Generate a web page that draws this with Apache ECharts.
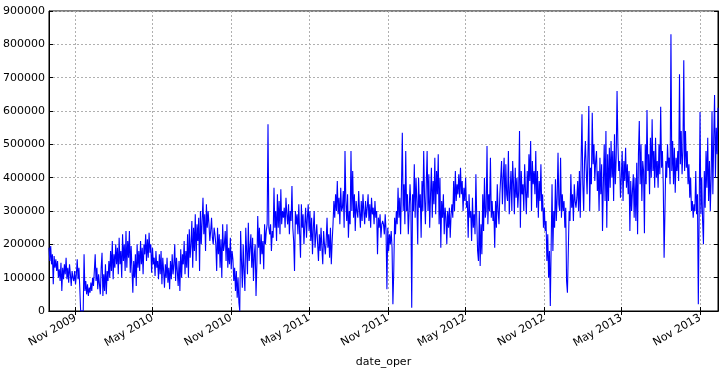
<!DOCTYPE html>
<html>
<head>
<meta charset="utf-8">
<script src="https://cdn.jsdelivr.net/npm/echarts@6/dist/echarts.min.js"></script>
<style>html,body{margin:0;padding:0;background:#fff}#c{width:725px;height:373px}</style>
</head>
<body>
<div id="c"></div>
<script>
// Values in thousands, one reading every 2 days starting 2009-09-01
const START_DATE = '2009-09-01';
const STEP_DAYS = 2;
const UNIT = 1000;
const seg1 = [190,150,195,140,170,80,165,130,155,120,
150,100,125,90,145,60,130,95,140,110,
160,95,130,85,140,110,75,120,100,90,
120,80,110,155,95,130,70,0,0,0,
0,170,60,90,50,80,45,70,55,85,
60,100,75,120,170,90,130,65,110,80,
50,130,175,45,110,60,140,50,120,90,
150,100,180,120,210,95,170,130,200,140,
190,110,220,140,180,100,230,150,200,120,
240,130,210,160,240,115,195];
const seg2 = [190,55,150,100,170,75,200,130,180,120,
210,140,190,110,200,170,230,150,215,160,
235,175,200,115,190,140,160,105,180,130,
150,95,170,110,180,80,160,120,70,140,
100,160,85,130,65,150,95,170,110,140,
200,90,160,120,75,150,60,185,100,170,
140,210,110,180,130,230,100,245,160,200,
270,130,250,180,290,150,260,210,280,120,
300,200,270,340,230,290,180,320,250,300,
260,210,240,280,220,200,250,230];
const seg3 = [200,120,250,170,230,130,215,100,260,180,
200,240,150,260,130,190,140,220,125,180,
155,90,130,60,120,40,100,25,0,240,
150,70,200,120,60,250,180,110,265,150,
190,230,130,220,90,170,200,45,140,285,
190,250,140,230,170,210,125,260,200,240,
260,560,250,230,260,180,240,220,370,250,
300,210,350,250,330,230,365,260,300,280,
310,250,340,290,260,320,230,300,270,375,
250,210,120,300,260,290,230,320];
const seg4 = [230,160,320,250,290,200,260,310,220,280,
320,240,300,210,280,170,250,300,190,230,
260,200,150,230,180,250,190,140,240,200,
170,210,280,190,230,160,250,140,210,260,
330,280,350,300,390,290,340,260,370,300,
310,360,250,480,330,270,350,220,300,260,
480,300,420,280,350,240,330,300,280,360,
300,250,330,270,350,300,260,330,280,310,
350,270,320,250,340,290,310,260,330,280,
300,170,280,250,290,220,260,270];
const seg5 = [260,230,290,240,65,250,180,230,200,240,
190,20,120,280,230,300,260,370,280,340,
230,370,535,300,380,260,480,300,350,230,
300,380,320,10,350,300,440,280,400,330,
200,400,310,350,220,390,300,480,340,260,
380,480,300,410,250,350,430,280,390,320,
460,290,420,350,470,260,400,190,330,280,
350,230,310,280,200,300,250,310,220,290,
320,280,390,300,420,330,380,350,410,340,
430,350,390,300,370,330,400,310];
const seg6 = [330,220,350,280,300,210,340,250,290,230,
410,280,180,150,300,135,260,170,350,240,
400,280,300,495,260,350,300,460,280,330,
270,300,190,330,250,380,300,260,350,400,
450,320,400,460,300,440,350,330,480,290,
360,420,300,450,380,290,430,340,400,310,
360,540,250,420,350,380,300,440,360,290,
420,340,470,390,510,300,450,380,420,350,
480,310,420,280,390,330,440,300,350,250,
310,240,270,150,230,100,180,15];
const seg7 = [15,380,180,300,250,395,270,340,475,320,
300,460,280,350,300,330,250,310,90,55,
60,300,270,410,310,350,270,380,330,310,
340,390,300,420,280,450,590,380,300,450,
510,420,350,470,615,300,430,380,595,440,
500,390,450,480,360,420,300,460,350,440,
240,380,500,330,540,250,470,330,490,370,
510,400,480,330,530,380,460,660,500,420,
450,340,400,480,330,450,390,490,370,440,
350,420,240,390,300,360,410,280];
const seg8 = [400,270,445,230,470,570,380,500,330,450,
420,233,500,380,603,420,470,350,520,400,
575,420,480,370,520,400,450,370,500,410,
613,430,480,380,160,300,450,400,500,430,
460,380,830,420,510,380,490,355,460,420,
480,390,710,440,540,410,480,752,420,540,
430,480,380,440,340,400,300,330,280,320,
300,420,290,350,20,300,597,290,400,270,
200,420,310,480,370,520,330,450,300,400,
600,350,520,648,400,550,470,610];
const yTicks = [0,100000,200000,300000,400000,500000,600000,700000,800000,900000];
const MONTHS = ['Jan','Feb','Mar','Apr','May','Jun','Jul','Aug','Sep','Oct','Nov','Dec'];
const TICK_MONTHS = [4, 10]; // May, Nov

const values = [].concat(seg1,seg2,seg3,seg4,seg5,seg6,seg7,seg8).map(v => v * UNIT);
const t0 = Date.parse(START_DATE + 'T00:00:00Z');
const dates = values.map((_, i) => new Date(t0 + i * STEP_DAYS * 86400000).toISOString().slice(0,10));

function isTick(index, value) {
  const d = new Date(dates[index] + 'T00:00:00Z');
  return TICK_MONTHS.indexOf(d.getUTCMonth()) >= 0 && d.getUTCDate() <= 2;
}
function fmt(value) {
  const d = new Date(value + 'T00:00:00Z');
  return MONTHS[d.getUTCMonth()] + ' ' + d.getUTCFullYear();
}

const chart = echarts.init(document.getElementById('c'), null, {renderer: 'canvas'});
const font = 'DejaVu Sans';
const gridLine = {show: true, lineStyle: {color: '#b0b0b0', type: [2, 2], width: 1}};
chart.setOption({
  animation: false,
  backgroundColor: '#fff',
  textStyle: {fontFamily: font},
  grid: {left: 48, right: 7, top: 11, bottom: 60, show: true, borderColor: '#000', borderWidth: 1, backgroundColor: 'transparent'},
  xAxis: [{
    type: 'category', data: dates, boundaryGap: false,
    name: 'date_oper', nameLocation: 'middle', nameGap: 46,
    nameTextStyle: {color: '#000', fontSize: 11, fontFamily: font},
    axisLine: {lineStyle: {color: '#000', width: 1}},
    axisTick: {inside: true, length: 4, interval: isTick, lineStyle: {color: '#000'}},
    axisLabel: {interval: isTick, rotate: 30, formatter: fmt, color: '#000', fontSize: 11, fontFamily: font, margin: 6},
    splitLine: Object.assign({interval: isTick}, gridLine)
  }, {
    type: 'category', data: dates, boundaryGap: false, position: 'top',
    axisLine: {lineStyle: {color: '#000'}},
    axisTick: {inside: true, length: 4, interval: isTick, lineStyle: {color: '#000'}},
    axisLabel: {show: false}, splitLine: {show: false}
  }],
  yAxis: [{
    type: 'value', min: yTicks[0], max: yTicks[yTicks.length-1], interval: yTicks[1]-yTicks[0],
    axisLine: {show: true, lineStyle: {color: '#000'}},
    axisTick: {show: true, inside: true, length: 4, lineStyle: {color: '#000'}},
    axisLabel: {color: '#000', fontSize: 11, fontFamily: font, margin: 4, formatter: v => String(v)},
    splitLine: gridLine
  }, {
    type: 'value', position: 'right', min: yTicks[0], max: yTicks[yTicks.length-1], interval: yTicks[1]-yTicks[0],
    axisLine: {show: true, lineStyle: {color: '#000'}},
    axisTick: {show: true, inside: true, length: 4, lineStyle: {color: '#000'}},
    axisLabel: {show: false}, splitLine: {show: false}
  }],
  series: [{
    type: 'line', data: values, xAxisIndex: 0, yAxisIndex: 0,
    showSymbol: false, symbol: 'none',
    lineStyle: {color: '#0000ff', width: 1.1}, itemStyle: {color: '#0000ff'}
  }]
});
</script>
</body>
</html>
